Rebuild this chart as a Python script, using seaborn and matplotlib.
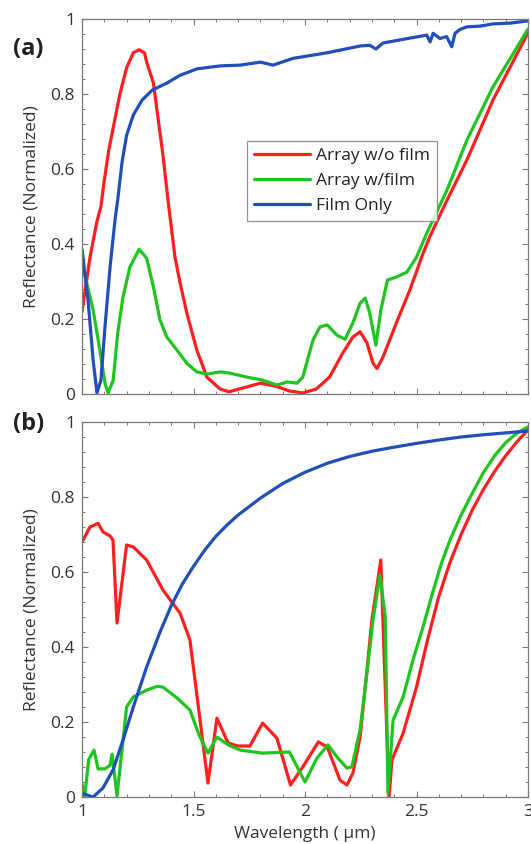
import matplotlib
matplotlib.use("Agg")
import matplotlib.pyplot as plt
import seaborn as sns
import pandas as pd
from matplotlib.ticker import MultipleLocator, FormatStrFormatter

# ---------------- data: panel (a) measured ----------------
a_red_x = [1.00, 1.02, 1.036, 1.067, 1.085, 1.10, 1.12, 1.14, 1.17, 1.20, 1.23, 1.256, 1.28, 1.29,
           1.32, 1.34, 1.363, 1.386, 1.417, 1.44, 1.47, 1.515, 1.56, 1.62, 1.66, 1.74, 1.80, 1.874,
           1.93, 1.99, 2.05, 2.11, 2.17, 2.215, 2.247, 2.278, 2.305, 2.323, 2.35, 2.41, 2.47, 2.53,
           2.56, 2.637, 2.726, 2.843, 3.00]
a_red_y = [0.22, 0.30, 0.365, 0.46, 0.50, 0.57, 0.65, 0.71, 0.80, 0.87, 0.91, 0.918, 0.91, 0.885,
           0.83, 0.74, 0.637, 0.515, 0.365, 0.296, 0.216, 0.117, 0.045, 0.013, 0.006, 0.019, 0.029, 0.02,
           0.008, 0.003, 0.013, 0.045, 0.11, 0.152, 0.166, 0.136, 0.082, 0.068, 0.099, 0.19, 0.277, 0.376,
           0.42, 0.517, 0.624, 0.784, 0.963]

a_green_x = [1.00, 1.05, 1.08, 1.103, 1.117, 1.14, 1.16, 1.184, 1.215, 1.256, 1.29, 1.32, 1.35, 1.38,
             1.426, 1.47, 1.515, 1.56, 1.62, 1.66, 1.74, 1.81, 1.874, 1.92, 1.964, 1.99, 2.036, 2.067,
             2.10, 2.143, 2.18, 2.215, 2.247, 2.27, 2.29, 2.318, 2.34, 2.37, 2.41, 2.457, 2.50, 2.547,
             2.637, 2.726, 2.843, 3.00]
a_green_y = [0.35, 0.224, 0.117, 0.029, 0.003, 0.037, 0.162, 0.259, 0.339, 0.386, 0.362, 0.286, 0.197, 0.152,
             0.117, 0.082, 0.059, 0.053, 0.059, 0.056, 0.045, 0.037, 0.024, 0.032, 0.029, 0.045, 0.144, 0.179,
             0.184, 0.157, 0.146, 0.19, 0.242, 0.256, 0.216, 0.13, 0.224, 0.304, 0.312, 0.325, 0.365, 0.43,
             0.544, 0.677, 0.819, 0.973]

a_blue_x = [1.00, 1.027, 1.05, 1.067, 1.085, 1.103, 1.126, 1.148, 1.16, 1.18, 1.20, 1.23, 1.27, 1.314,
            1.38, 1.44, 1.515, 1.62, 1.71, 1.80, 1.857, 1.946, 2.10, 2.247, 2.29, 2.318, 2.35, 2.47,
            2.546, 2.561, 2.575, 2.605, 2.635, 2.658, 2.673, 2.695, 2.725, 2.785, 2.843, 2.92, 3.00]
a_blue_y = [0.386, 0.25, 0.09, 0.003, 0.037, 0.179, 0.339, 0.464, 0.517, 0.62, 0.69, 0.744, 0.784, 0.81,
            0.829, 0.85, 0.867, 0.875, 0.877, 0.885, 0.877, 0.895, 0.91, 0.928, 0.93, 0.92, 0.936, 0.949,
            0.957, 0.939, 0.962, 0.948, 0.953, 0.926, 0.962, 0.972, 0.979, 0.981, 0.987, 0.989, 0.995]

# ---------------- data: panel (b) simulated ----------------
b_red_x = [1.00, 1.036, 1.072, 1.094, 1.126, 1.139, 1.157, 1.20, 1.23, 1.29, 1.363, 1.44, 1.484,
           1.565, 1.605, 1.655, 1.70, 1.753, 1.81, 1.874, 1.935, 1.99, 2.06, 2.10, 2.157, 2.188,
           2.215, 2.247, 2.278, 2.30, 2.34, 2.377, 2.39, 2.44, 2.50, 2.55, 2.60, 2.65, 2.70, 2.75,
           2.80, 2.85, 2.90, 2.95, 3.00]
b_red_y = [0.68, 0.72, 0.73, 0.707, 0.696, 0.685, 0.464, 0.672, 0.667, 0.632, 0.552, 0.49, 0.419,
           0.037, 0.21, 0.144, 0.136, 0.136, 0.197, 0.157, 0.032, 0.08, 0.147, 0.133, 0.045, 0.032,
           0.064, 0.16, 0.339, 0.472, 0.632, 0.0, 0.099, 0.17, 0.293, 0.42, 0.535, 0.625, 0.70, 0.765,
           0.82, 0.868, 0.91, 0.947, 0.979]

b_green_x = [1.00, 1.012, 1.03, 1.054, 1.072, 1.103, 1.126, 1.135, 1.157, 1.20, 1.23, 1.29, 1.337,
             1.363, 1.426, 1.484, 1.525, 1.565, 1.605, 1.655, 1.71, 1.81, 1.93, 2.00, 2.054, 2.103,
             2.143, 2.188, 2.21, 2.247, 2.283, 2.305, 2.336, 2.36, 2.372, 2.395, 2.44, 2.484, 2.53,
             2.57, 2.61, 2.65, 2.70, 2.75, 2.80, 2.85, 2.90, 2.95, 3.00]
b_green_y = [0.035, 0.0, 0.10, 0.125, 0.075, 0.075, 0.085, 0.114, 0.003, 0.24, 0.267, 0.285, 0.295,
             0.293, 0.264, 0.232, 0.165, 0.117, 0.16, 0.139, 0.125, 0.117, 0.12, 0.04, 0.104, 0.139,
             0.107, 0.077, 0.08, 0.179, 0.357, 0.472, 0.592, 0.48, 0.01, 0.205, 0.267, 0.365, 0.455,
             0.54, 0.62, 0.685, 0.752, 0.81, 0.865, 0.91, 0.945, 0.97, 0.987]

b_blue_x = [1.00, 1.05, 1.094, 1.139, 1.184, 1.23, 1.29, 1.35, 1.40, 1.45, 1.50, 1.55, 1.60, 1.65,
            1.70, 1.80, 1.90, 2.00, 2.10, 2.20, 2.30, 2.40, 2.50, 2.60, 2.70, 2.80, 2.90, 3.00]
b_blue_y = [0.01, 0.0, 0.024, 0.072, 0.152, 0.24, 0.347, 0.44, 0.51, 0.568, 0.615, 0.658, 0.695, 0.725,
            0.752, 0.797, 0.836, 0.866, 0.89, 0.908, 0.922, 0.933, 0.943, 0.952, 0.96, 0.966, 0.971, 0.976]

series_names = ["Array w/o film", "Array w/film", "Film Only"]
colors = ["#ff1f1f", "#1fc41f", "#1f4fb8"]
y_ticks = [0, 0.2, 0.4, 0.6, 0.8, 1]
x_ticks = [1, 1.5, 2, 2.5, 3]
x_label = "Wavelength ( \u03bcm)"
y_label = "Reflectance (Normalized)"
panel_labels = ["(a)", "(b)"]


def long_df(xs, ys):
    frames = []
    for name, x, y in zip(series_names, xs, ys):
        frames.append(pd.DataFrame({"wl": x, "R": y, "series": name}))
    return pd.concat(frames, ignore_index=True)


df_a = long_df([a_red_x, a_green_x, a_blue_x], [a_red_y, a_green_y, a_blue_y])
df_b = long_df([b_red_x, b_green_x, b_blue_x], [b_red_y, b_green_y, b_blue_y])

sns.set_style("white")
plt.rcParams["font.family"] = ["Open Sans", "DejaVu Sans"]

fig = plt.figure(figsize=(5.31, 8.44), dpi=100)
axa = fig.add_axes([82 / 531, 1 - 394 / 844, 446 / 531, 375 / 844])
axb = fig.add_axes([82 / 531, 1 - 797 / 844, 446 / 531, 375 / 844])

pal = dict(zip(series_names, colors))
for ax, df in ((axa, df_a), (axb, df_b)):
    sns.lineplot(data=df, x="wl", y="R", hue="series", palette=pal, sort=False,
                 estimator=None, linewidth=2.3, ax=ax, legend=(ax is axa))
    ax.set_xlim(1, 3)
    ax.set_ylim(0, 1)
    ax.set_xticks(x_ticks)
    ax.set_yticks(y_ticks)
    ax.xaxis.set_minor_locator(MultipleLocator(0.1))
    ax.yaxis.set_minor_locator(MultipleLocator(0.04))
    ax.yaxis.set_major_formatter(FormatStrFormatter("%g"))
    ax.xaxis.set_major_formatter(FormatStrFormatter("%g"))
    ax.tick_params(which="both", direction="in", top=True, right=True, bottom=True, left=True,
                   colors="#7a7a7a", labelcolor="#333333")
    ax.tick_params(which="major", length=4, width=0.8, labelsize=12.5, pad=5)
    ax.tick_params(which="minor", length=2.2, width=0.7)
    for s in ax.spines.values():
        s.set_color("#7a7a7a")
        s.set_linewidth(0.9)
    ax.set_ylabel(y_label, fontsize=12.5, color="#333333", labelpad=8)
    ax.set_xlabel("")

axa.tick_params(labelbottom=False)
axb.set_xlabel(x_label, fontsize=12.5, color="#333333", labelpad=4)

leg = axa.legend(loc="upper left", bbox_to_anchor=(0.37, 0.675), borderaxespad=0,
                 fontsize=12.5, handlelength=3.2, labelspacing=0.5, handletextpad=0.4,
                 borderpad=0.4, frameon=True, fancybox=False)
leg.get_frame().set_edgecolor("#7a7a7a")
leg.get_frame().set_linewidth(0.9)
for t in leg.get_texts():
    t.set_color("#222222")

fig.text(13 / 531, 1 - 49 / 844, panel_labels[0], fontsize=17, fontweight="bold",
         ha="left", va="center", color="#222222")
fig.text(13 / 531, 1 - 424 / 844, panel_labels[1], fontsize=17, fontweight="bold",
         ha="left", va="center", color="#222222")

fig.savefig("out.png", dpi=100)
